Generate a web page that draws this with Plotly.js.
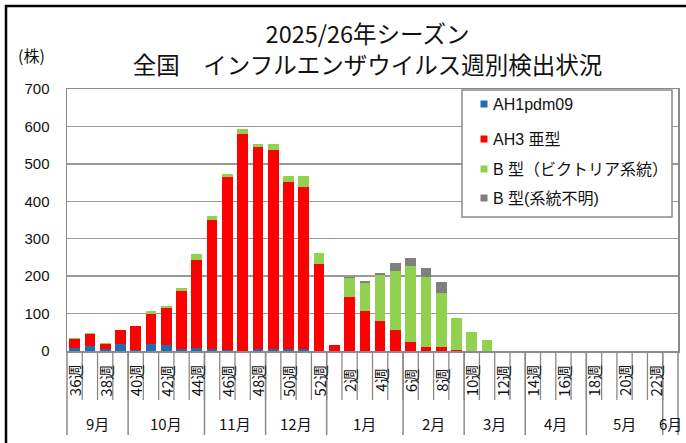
<!DOCTYPE html>
<html>
<head>
<meta charset="utf-8">
<script src="https://cdn.plot.ly/plotly-3.0.1.min.js"></script>
<style>html,body{margin:0;padding:0;background:#fff;}#chart{width:686px;height:443px;}</style>
</head>
<body>
<div id="chart"></div>
<script>
// ---- data ----
const weeks = [36,37,38,39,40,41,42,43,44,45,46,47,48,49,50,51,52,1,2,3,4,5,6,7,8,9,10,11,12,13,14,15,16,17,18,19,20,21,22,23];
const weekLabels = weeks.map(w => w + "週");
const months = ["9月","10月","11月","12月","1月","2月","3月","4月","5月","6月"];
const monthWeekCounts = [4,5,4,4,5,4,4,4,5,1];
const seriesNames = ["AH1pdm09", "AH3 亜型", "B 型（ビクトリア系統）", "B 型(系統不明)"];
const ah1 = [8,13,5,18,4,20,17,5,8,6,2,1,6,5,5,5,1,0,0,0,0,0,0,0,0,0,0,0,0,0,0,0,0,0,0,0,0,0,0,0];
const ah3 = [23,33,15,37,62,80,99,154,236,344,463,578,538,533,446,432,231,15,143,106,79,55,24,12,12,3,0,0,0,0,0,0,0,0,0,0,0,0,0,0];
const bVic = [5,3,2,2,2,8,5,8,14,10,8,14,10,16,16,30,29,2,53,75,124,160,203,187,142,84,51,29,0,0,0,0,0,0,0,0,0,0,0,0];
const bUnk = [0,0,0,0,0,0,0,0,0,0,0,0,0,0,0,1,0,0,2,6,6,20,21,22,31,0,0,0,0,0,0,0,0,0,0,0,0,0,0,0];
const titleLine1 = "2025/26年シーズン";
const titleLine2 = "全国　インフルエンザウイルス週別検出状況";
const unitLabel = "(株)";

// ---- style ----
const colors = ["#1f6cb5", "#ff0000", "#92d050", "#7f7f7f"];
const W = 686, H = 443;
const M = {l: 67, r: 8, t: 89, b: 92};
const PW = W - M.l - M.r, PH = H - M.t - M.b;
const xp = px => (px - M.l) / PW;
const yp = py => (H - M.b - py) / PH;
const N = weeks.length;
const jp = "Noto Sans CJK JP";
const mixed = "Liberation Sans, Noto Sans CJK JP";
const axisGray = "#8a8a8a";

const values = [ah1, ah3, bVic, bUnk];
const traces = values.map((v, k) => ({
  type: "bar", x: weekLabels, y: v, name: seriesNames[k],
  marker: {color: colors[k], line: {width: 0}},
  showlegend: false, hoverinfo: "x+y+name"
}));

const shapes = [];
const annotations = [];

// week boundary ticks
for (let k = 1; k < N; k++) {
  shapes.push({type: "line", xref: "paper", yref: "paper", x0: k / N, x1: k / N, y0: 0, y1: yp(400),
    line: {color: axisGray, width: 1.3}});
}
// month boundaries and month labels
let cum = 0;
const bounds = [0];
monthWeekCounts.forEach((c, i) => {
  const center = cum + c / 2;
  annotations.push({xref: "paper", yref: "paper", x: center / N, y: yp(423), text: months[i],
    showarrow: false, xanchor: "center", yanchor: "middle", font: {family: jp, size: 15, color: "#111"}});
  cum += c;
  bounds.push(cum);
});
bounds.forEach(b => {
  shapes.push({type: "line", xref: "paper", yref: "paper", x0: b / N, x1: b / N, y0: 0, y1: yp(435),
    line: {color: axisGray, width: 1.5}});
});
// week labels (every other week)
weekLabels.forEach((lab, i) => {
  if (i % 2 === 0) {
    annotations.push({xref: "x", yref: "paper", x: lab, y: yp(380.5), text: lab, textangle: -90,
      showarrow: false, xanchor: "center", yanchor: "middle", font: {family: jp, size: 15, color: "#111"}});
  }
});

// custom legend
shapes.push({type: "rect", xref: "paper", yref: "paper", x0: xp(462), x1: xp(672), y0: yp(217), y1: yp(90),
  line: {color: axisGray, width: 1.5}, fillcolor: "#ffffff"});
const legendY = [104, 139, 169, 198];
seriesNames.forEach((nm, k) => {
  const cy = legendY[k];
  shapes.push({type: "rect", xref: "paper", yref: "paper", x0: xp(480.5), x1: xp(487.5), y0: yp(cy + 3.5), y1: yp(cy - 3.5),
    line: {width: 0}, fillcolor: colors[k]});
  annotations.push({xref: "paper", yref: "paper", x: xp(491), y: yp(cy), text: nm, showarrow: false,
    xanchor: "left", yanchor: "middle", font: {family: mixed, size: 16, color: "#111"}});
});

// unit label
annotations.push({xref: "paper", yref: "paper", x: xp(31), y: yp(55), text: unitLabel, showarrow: false,
  xanchor: "center", yanchor: "middle", font: {family: jp, size: 16, color: "#111"}});

// outer frame (left and top)
shapes.push({type: "line", xref: "paper", yref: "paper", x0: xp(6), x1: xp(6), y0: yp(445), y1: yp(5),
  line: {color: "#000", width: 2.5}});
shapes.push({type: "line", xref: "paper", yref: "paper", x0: xp(5), x1: xp(688), y0: yp(6), y1: yp(6),
  line: {color: "#000", width: 2.5}});

const layout = {
  width: W, height: H, margin: M,
  paper_bgcolor: "#fff", plot_bgcolor: "#fff",
  barmode: "stack", bargap: 0.3,
  showlegend: false,
  title: {
    text: titleLine1 + "<br>" + titleLine2,
    font: {family: jp, size: 23.5, color: "#111"},
    xref: "container", yref: "container", x: 367.5 / W, y: 1 - 43 / H,
    xanchor: "center", yanchor: "middle"
  },
  xaxis: {
    type: "category", range: [-0.5, N - 0.5], showticklabels: false, ticks: "",
    showgrid: false, zeroline: false, showline: true, linecolor: axisGray, linewidth: 1.5, mirror: true,
    fixedrange: true
  },
  yaxis: {
    range: [0, 700], tick0: 0, dtick: 100, showgrid: true, gridcolor: "#999", gridwidth: 1.5,
    zeroline: false, showline: true, linecolor: axisGray, linewidth: 1.5, mirror: true,
    ticks: "", ticklabelstandoff: 13,
    tickfont: {family: "Liberation Sans", size: 15, color: "#111"}, fixedrange: true
  },
  shapes: shapes,
  annotations: annotations
};

Plotly.newPlot("chart", traces, layout, {staticPlot: true, displayModeBar: false});
</script>
</body>
</html>
